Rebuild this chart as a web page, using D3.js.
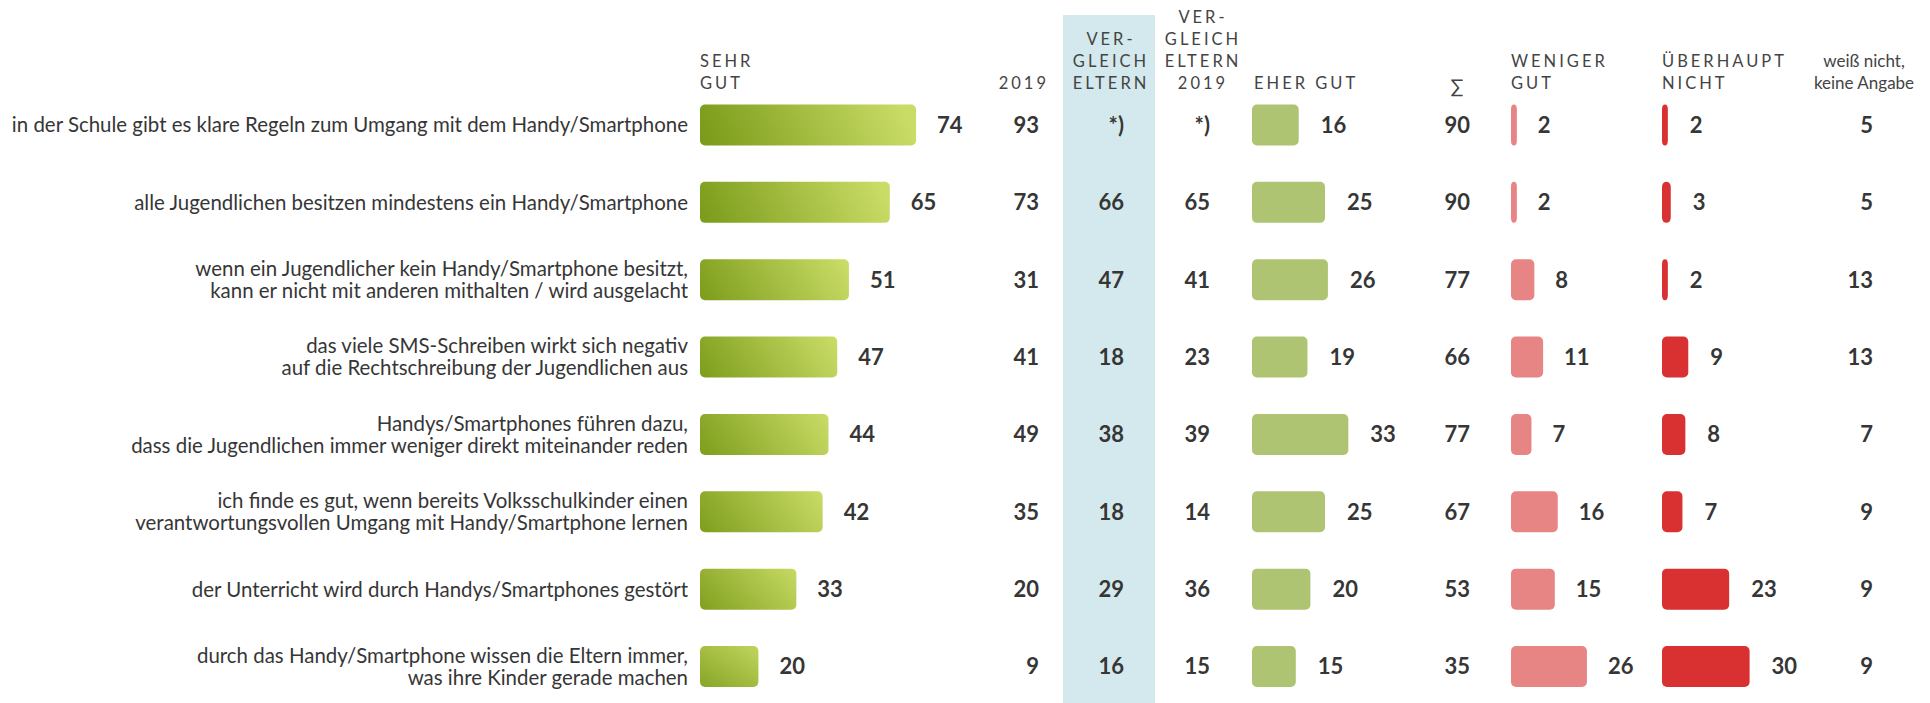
<!DOCTYPE html>
<html><head><meta charset="utf-8">
<script src="https://cdn.jsdelivr.net/npm/d3@7"></script>
<style>
body{margin:0;background:#fff;}
svg{display:block;font-family:Lato,"Open Sans",sans-serif;}
</style></head><body>
<svg id="c" width="1930" height="703"></svg>
<script>
const categories = [
  ["in der Schule gibt es klare Regeln zum Umgang mit dem Handy/Smartphone"],
  ["alle Jugendlichen besitzen mindestens ein Handy/Smartphone"],
  ["wenn ein Jugendlicher kein Handy/Smartphone besitzt,","kann er nicht mit anderen mithalten / wird ausgelacht"],
  ["das viele SMS-Schreiben wirkt sich negativ","auf die Rechtschreibung der Jugendlichen aus"],
  ["Handys/Smartphones führen dazu,","dass die Jugendlichen immer weniger direkt miteinander reden"],
  ["ich finde es gut, wenn bereits Volksschulkinder einen","verantwortungsvollen Umgang mit Handy/Smartphone lernen"],
  ["der Unterricht wird durch Handys/Smartphones gestört"],
  ["durch das Handy/Smartphone wissen die Eltern immer,","was ihre Kinder gerade machen"]
];
const sehrGut      = [74,65,51,47,44,42,33,20];
const sehrGut2019  = [93,73,31,41,49,35,20,9];
const vergleichEltern     = ["*)",66,47,18,38,18,29,16];
const vergleichEltern2019 = ["*)",65,41,23,39,14,36,15];
const eherGut      = [16,25,26,19,33,25,20,15];
const summe        = [90,90,77,66,77,67,53,35];
const wenigerGut   = [2,2,8,11,7,16,15,26];
const ueberhauptNicht = [2,3,2,9,8,7,23,30];
const weissNicht   = [5,5,13,13,7,9,9,9];
const headers = {
  sehrGut:["SEHR","GUT"],
  y2019:["2019"],
  ve:["VER-","GLEICH","ELTERN"],
  ve2019:["VER-","GLEICH","ELTERN","2019"],
  eherGut:["EHER GUT"],
  sum:["∑"],
  weniger:["WENIGER","GUT"],
  ueber:["ÜBERHAUPT","NICHT"],
  wn:["weiß nicht,","keine Angabe"]
};

const svg = d3.select("#c");
const n = categories.length;
const y = d3.scalePoint().domain(d3.range(n)).range([125, 666.5]);
const w = d3.scaleLinear().domain([0,100]).range([0,292]);
const barH = 41;
const textCol = "#363636";
const defs = svg.append("defs");

// highlight column
svg.append("rect").attr("x",1063).attr("y",15).attr("width",92).attr("height",703-15)
  .attr("fill","#d3e9ed");

// headers
function header(lines, x, anchor, opts={}){
  const lastBase = 89, lh = 22;
  const t = svg.append("g");
  lines.forEach((l,i)=>{
    t.append("text").attr("x",x).attr("y",lastBase - (lines.length-1-i)*lh)
      .attr("text-anchor",anchor)
      .attr("font-size",opts.size||16.5)
      .attr("letter-spacing",opts.ls===undefined?3:opts.ls)
      .attr("fill","#444").text(l);
  });
}
header(headers.sehrGut, 700, "start");
header(headers.y2019, 1049, "end");
header(headers.ve, 1111, "middle");
header(headers.ve2019, 1203, "middle");
header(headers.eherGut, 1254, "start");
svg.append("text").attr("x",1457).attr("y",93).attr("text-anchor","middle")
  .attr("font-size",19).attr("fill","#444").text(headers.sum[0]);
header(headers.weniger, 1511, "start");
header(headers.ueber, 1662, "start");
header(headers.wn, 1864, "middle", {size:17, ls:0});

// row labels
categories.forEach((lines,i)=>{
  const cy = y(i);
  lines.forEach((l,j)=>{
    svg.append("text").attr("x",688)
      .attr("y", cy + (j - (lines.length-1)/2)*22)
      .attr("dy","0.36em").attr("text-anchor","end")
      .attr("font-size",20.45).attr("fill",textCol).text(l);
  });
});

function bars(values, x0, fill, gap, gradient){
  const rects = svg.append("g").selectAll("rect").data(values).join("rect")
    .attr("x",x0).attr("y",(d,i)=>y(i)-barH/2)
    .attr("width",d=>w(d)).attr("height",barH)
    .attr("rx",5).attr("ry",5);
  if(gradient){
    values.forEach((d,i)=>{
      const gr = defs.append("linearGradient").attr("id","gs"+i)
        .attr("gradientUnits","userSpaceOnUse")
        .attr("x1",x0).attr("y1",y(i)+barH/2+25)
        .attr("x2",x0+w(d)).attr("y2",y(i)-barH/2-25);
      gr.append("stop").attr("offset","0%").attr("stop-color","#759614");
      gr.append("stop").attr("offset","90%").attr("stop-color","#c9dc66");
    });
    rects.attr("fill",(d,i)=>"url(#gs"+i+")");
  } else rects.attr("fill",fill);
  svg.append("g").selectAll("text").data(values).join("text")
    .attr("x",d=>x0+w(d)+gap).attr("y",(d,i)=>y(i)).attr("dy","0.36em")
    .attr("font-size",22).attr("font-weight","bold").attr("fill",textCol)
    .text(d=>d);
}
function col(values, x, anchor){
  svg.append("g").selectAll("text").data(values).join("text")
    .attr("x",x).attr("y",(d,i)=>y(i)).attr("dy","0.36em")
    .attr("text-anchor",anchor)
    .attr("font-size",22).attr("font-weight","bold").attr("fill",textCol)
    .text(d=>d);
}

bars(sehrGut, 700, null, 21, true);
col(sehrGut2019, 1039, "end");
col(vergleichEltern, 1124, "end");
col(vergleichEltern2019, 1210, "end");
bars(eherGut, 1252, "#afc472", 22);
col(summe, 1470, "end");
bars(wenigerGut, 1511, "#e78484", 21);
bars(ueberhauptNicht, 1662, "#d93131", 22);
col(weissNicht, 1873, "end");
</script>
</body></html>
